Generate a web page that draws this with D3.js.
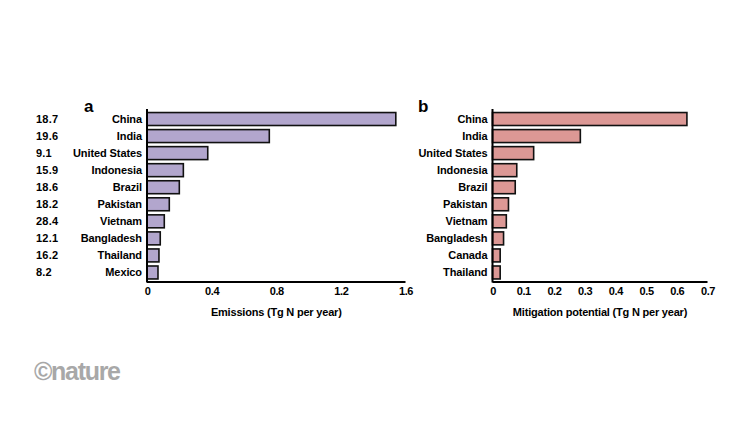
<!DOCTYPE html>
<html><head><meta charset="utf-8">
<script src="https://cdnjs.cloudflare.com/ajax/libs/d3/7.8.5/d3.min.js"></script>
<style>body{margin:0;background:#fff}svg{display:block}text{font-family:"Liberation Sans",Arial,sans-serif;font-weight:bold}</style>
</head><body><svg id="c" width="750" height="422"></svg>
<script>
const countriesA = ["China","India","United States","Indonesia","Brazil","Pakistan","Vietnam","Bangladesh","Thailand","Mexico"];
const emissions = [1.54,0.757,0.376,0.225,0.2,0.138,0.107,0.082,0.074,0.068];
const shares = ["18.7","19.6","9.1","15.9","18.6","18.2","28.4","12.1","16.2","8.2"];
const ticksA = [0,0.4,0.8,1.2,1.6];
const countriesB = ["China","India","United States","Indonesia","Brazil","Pakistan","Vietnam","Bangladesh","Canada","Thailand"];
const mitigation = [0.633,0.286,0.134,0.079,0.074,0.052,0.045,0.036,0.025,0.025];
const ticksB = [0,0.1,0.2,0.3,0.4,0.5,0.6,0.7];

const svg = d3.select("#c");

function panel(cfg){
  const g = svg.append("g");
  const x = d3.scaleLinear().domain(cfg.domain).range([cfg.x0, cfg.x1]);
  const y = d3.scaleBand().domain(cfg.cats).range([110.5, 281]).paddingInner(0.24).paddingOuter(0.12);
  g.selectAll("rect.bar").data(cfg.vals).join("rect")
    .attr("x", x(0)).attr("y", (d,i)=>y(cfg.cats[i]))
    .attr("width", d=>x(d)-x(0)).attr("height", y.bandwidth())
    .attr("fill", cfg.color).attr("stroke","#111").attr("stroke-width",1.6);
  g.selectAll("text.cat").data(cfg.cats).join("text")
    .attr("x", x(0)-5).attr("y", d=>y(d)+y.bandwidth()/2+3.8)
    .attr("text-anchor","end").attr("font-size",11).attr("letter-spacing","-0.1").text(d=>d);
  g.append("line").attr("x1",x(0)).attr("x2",x(0)).attr("y1",109).attr("y2",282.5)
    .attr("stroke","#000").attr("stroke-width",2);
  const ax = d3.axisBottom(x).tickValues(cfg.ticks).tickSize(0).tickPadding(5)
    .tickFormat(d=> d===0 ? "0" : d3.format(".1f")(d));
  const axg = g.append("g").attr("transform","translate(0,282)").call(ax);
  axg.select(".domain").attr("stroke","#000").attr("stroke-width",2).attr("d",`M${x(0)},0H${x(cfg.domain[1])}`);
  axg.selectAll("text").attr("font-size",11).attr("fill","#000").attr("font-family","Liberation Sans, Arial, sans-serif").attr("font-weight","bold").attr("letter-spacing","-0.4");
  g.append("text").attr("x",(x(0)+x(cfg.domain[1]))/2).attr("y",316).attr("text-anchor","middle")
    .attr("font-size",11).attr("letter-spacing","-0.2").text(cfg.title);
  g.append("text").attr("x",cfg.lx).attr("y",112).attr("font-size",17).text(cfg.letter);
  return {x,y};
}

const pa = panel({domain:[0,1.6], x0:147, x1:405.5, cats:countriesA, vals:emissions, ticks:ticksA,
  color:"#b2a6cd", title:"Emissions (Tg N per year)", letter:"a", lx:84});
svg.selectAll("text.share").data(shares).join("text").attr("class","share")
  .attr("x",36).attr("y",(d,i)=>pa.y(countriesA[i])+pa.y.bandwidth()/2+3.8)
  .attr("font-size",11).attr("letter-spacing","0.2").text(d=>d);

panel({domain:[0,0.7], x0:492.5, x1:707.5, cats:countriesB, vals:mitigation, ticks:ticksB,
  color:"#dc9895", title:"Mitigation potential (Tg N per year)", letter:"b", lx:418});

svg.append("text").attr("x",34).attr("y",380).attr("font-size",25).attr("fill","#a8a8a8")
  .attr("letter-spacing","-1.3").text("©nature");
</script></body></html>
